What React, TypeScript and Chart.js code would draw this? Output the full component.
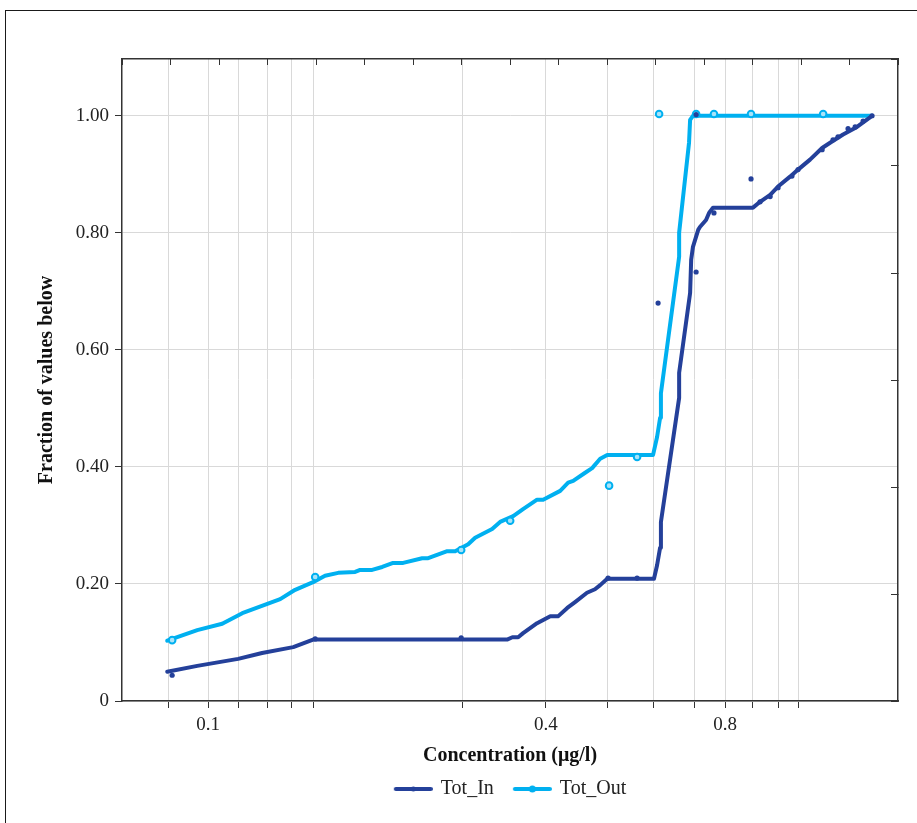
import React, { useEffect, useRef } from 'react';
import { Chart, registerables } from 'chart.js';
Chart.register(...registerables);

// Tot_In line
const inX = [0.0848, 0.0957, 0.1128, 0.1242, 0.1408, 0.1525, 0.3328, 0.340, 0.348, 0.355, 0.3755, 0.396, 0.409, 0.424, 0.4375, 0.459, 0.474, 0.484, 0.498, 0.601, 0.6085, 0.616, 0.618, 0.665, 0.665, 0.695, 0.698, 0.703, 0.718, 0.723, 0.741, 0.750, 0.762, 0.895, 0.921, 0.959, 0.990, 1.039, 1.073, 1.126, 1.182, 1.230, 1.286, 1.360, 1.445];
const inY = [0.050, 0.060, 0.072, 0.082, 0.092, 0.105, 0.105, 0.109, 0.109, 0.116, 0.133, 0.145, 0.145, 0.159, 0.169, 0.185, 0.191, 0.198, 0.209, 0.209, 0.232, 0.262, 0.306, 0.518, 0.561, 0.697, 0.754, 0.776, 0.805, 0.810, 0.822, 0.834, 0.843, 0.843, 0.853, 0.865, 0.879, 0.896, 0.908, 0.925, 0.945, 0.956, 0.968, 0.981, 1.0];

// Tot_Out line
const outX = [0.0848, 0.0957, 0.1058, 0.1147, 0.1336, 0.1419, 0.1525, 0.160, 0.1687, 0.1806, 0.1843, 0.1934, 0.2014, 0.2104, 0.2191, 0.2365, 0.2423, 0.2616, 0.2701, 0.2846, 0.2927, 0.3134, 0.3236, 0.3411, 0.3549, 0.3755, 0.3848, 0.4121, 0.4255, 0.4342, 0.4556, 0.4686, 0.484, 0.498, 0.5988, 0.6085, 0.616, 0.618, 0.665, 0.665, 0.692, 0.695, 0.703, 1.445];
const outY = [0.103, 0.121, 0.132, 0.150, 0.174, 0.190, 0.203, 0.214, 0.219, 0.2205, 0.224, 0.224, 0.229, 0.236, 0.236, 0.244, 0.244, 0.256, 0.256, 0.268, 0.279, 0.294, 0.306, 0.316, 0.328, 0.344, 0.344, 0.359, 0.373, 0.376, 0.390, 0.398, 0.414, 0.4205, 0.4205, 0.451, 0.484, 0.526, 0.759, 0.800, 0.954, 0.993, 1.0, 1.0];

// Markers
const inMarkX = [0.0865, 0.1538, 0.2767, 0.4997, 0.5615, 0.611, 0.712, 0.712, 0.765, 0.888, 0.921, 0.959, 0.990, 1.047, 1.073, 1.182, 1.235, 1.260, 1.312, 1.350, 1.394, 1.445];
const inMarkY = [0.044, 0.106, 0.108, 0.210, 0.210, 0.680, 1.002, 0.733, 0.834, 0.892, 0.853, 0.862, 0.877, 0.897, 0.908, 0.942, 0.959, 0.964, 0.978, 0.981, 0.991, 1.0];
const outMarkX = [0.0865, 0.1538, 0.2767, 0.337, 0.5017, 0.5615, 0.6135, 0.712, 0.765, 0.888, 1.187];
const outMarkY = [0.104, 0.212, 0.258, 0.308, 0.368, 0.417, 1.003, 1.003, 1.003, 1.003, 1.003];

const xTickValues = [0.0851, 0.1, 0.113, 0.127, 0.140, 0.153, 0.278, 0.389, 0.498, 0.601, 0.706, 0.8, 0.895, 0.99, 1.077];
const xTickLabels = ['', '0.1', '', '', '', '', '', '0.4', '', '', '', '0.8', '', '', ''];
const yTickValues = [0, 0.2, 0.4, 0.6, 0.8, 1.0];

const seriesNames = ['Tot_In', 'Tot_Out'];
const DARK = '#24409a';
const LIGHT = '#00b0f0';
const FONT = '"Liberation Serif", "DejaVu Serif", serif';

const zip = (xs: number[], ys: number[]) => xs.map((x, i) => ({ x, y: ys[i] }));

export default function App() {
  const ref = useRef<HTMLCanvasElement>(null);
  useEffect(() => {
    if (!ref.current) return;
    const legendImg = (color: string, r: number) => {
      const c = document.createElement('canvas');
      c.width = 41; c.height = 10;
      const g = c.getContext('2d')!;
      g.strokeStyle = color; g.lineWidth = 4; g.lineCap = 'round';
      g.beginPath(); g.moveTo(4, 5); g.lineTo(39, 5); g.stroke();
      g.fillStyle = color; g.beginPath(); g.arc(21.5, 5, r, 0, Math.PI * 2); g.fill();
      return c;
    };
    const imgs = [legendImg(DARK, 2.5), legendImg(LIGHT, 3.5)];

    const chart = new Chart(ref.current, {
      type: 'line',
      data: {
        datasets: [
          { label: seriesNames[0] + ' markers', data: zip(inMarkX, inMarkY), showLine: false, pointRadius: 2.6, pointBackgroundColor: DARK, pointBorderColor: DARK, pointBorderWidth: 0, order: 0 },
          { label: seriesNames[0], data: zip(inX, inY), borderColor: DARK, backgroundColor: DARK, borderWidth: 4, pointRadius: 0, tension: 0, borderJoinStyle: 'round', borderCapStyle: 'round', order: 1 },
          { label: seriesNames[1] + ' markers', data: zip(outMarkX, outMarkY), showLine: false, pointRadius: 3.3, pointBackgroundColor: '#a8e3f9', pointBorderColor: LIGHT, pointBorderWidth: 2, order: 2 },
          { label: seriesNames[1], data: zip(outX, outY), borderColor: LIGHT, backgroundColor: LIGHT, borderWidth: 4, pointRadius: 0, tension: 0, borderJoinStyle: 'round', borderCapStyle: 'round', order: 3 },
        ] as any,
      },
      options: {
        responsive: false,
        animation: false,
        layout: { padding: { left: 0, right: 0, top: 59, bottom: 14 } },
        plugins: {
          tooltip: { enabled: false },
          legend: {
            position: 'bottom',
            fullSize: false,
            labels: {
              usePointStyle: true,
              pointStyleWidth: 37,
              padding: 19,
              color: '#222',
              font: { family: FONT, size: 20 },
              filter: (item: any) => !String(item.text).includes('markers'),
              generateLabels: (ch: any) => {
                const base = (Chart.defaults.plugins.legend.labels as any).generateLabels(ch);
                return base.map((it: any) => {
                  const idx = seriesNames.indexOf(it.text);
                  if (idx >= 0) it.pointStyle = imgs[idx];
                  return it;
                });
              },
            },
          },
        },
        scales: {
          x: {
            type: 'logarithmic',
            position: 'bottom',
            min: 0.0707,
            max: 1.604,
            afterBuildTicks: (axis: any) => { axis.ticks = xTickValues.map((v) => ({ value: v })); },
            afterFit: (s: any) => { s.height = 59; },
            ticks: {
              autoSkip: false,
              maxRotation: 0,
              padding: 6,
              color: '#222',
              font: { family: FONT, size: 19 },
              callback: (_v: any, i: number) => xTickLabels[i],
            },
            grid: { color: '#d9d9d9', lineWidth: 1, tickColor: '#333', tickLength: 7 },
            border: { color: '#333', width: 1.5 },
            title: { display: true, text: 'Concentration (μg/l)', color: '#111', font: { family: FONT, size: 20, weight: 'bold' }, padding: { top: 0, bottom: -8 } },
          },
          x2: {
            type: 'linear',
            position: 'top',
            min: 0, max: 16,
            afterFit: (s: any) => { s.height = 0; },
            ticks: { display: false, stepSize: 1 },
            grid: { drawOnChartArea: false, tickLength: -6, tickColor: '#333' },
            border: { color: '#333', width: 1.5 },
          },
          y: {
            type: 'linear',
            position: 'left',
            min: 0,
            max: 1.097,
            afterBuildTicks: (axis: any) => { axis.ticks = yTickValues.map((v) => ({ value: v })); },
            afterFit: (s: any) => { s.width = 122; },
            ticks: {
              padding: 6,
              color: '#222',
              font: { family: FONT, size: 19 },
              callback: (v: any) => (Number(v) === 0 ? '0' : Number(v).toFixed(2)),
            },
            grid: { color: '#d9d9d9', lineWidth: 1, tickColor: '#333', tickLength: 7 },
            border: { color: '#333', width: 1.5 },
            title: { display: true, text: 'Fraction of values below', color: '#111', font: { family: FONT, size: 20, weight: 'bold' }, padding: { top: 35, bottom: 0 } },
          },
          y2: {
            type: 'linear',
            position: 'right',
            min: 0, max: 6,
            afterFit: (s: any) => { s.width = 19; },
            ticks: { display: false, stepSize: 1 },
            grid: { drawOnChartArea: false, tickLength: -7, tickColor: '#333' },
            border: { color: '#333', width: 1.5 },
          },
        },
      } as any,
    });
    return () => chart.destroy();
  }, []);

  return (
    <div style={{ position: 'fixed', left: 0, top: 0, width: 917, height: 823, background: '#fff', overflow: 'hidden' }}>
      <div style={{ position: 'absolute', left: 5, top: 10, width: 940, height: 840, border: '1.5px solid #1a1a1a' }} />
      <canvas ref={ref} width={917} height={823} style={{ position: 'absolute', left: 0, top: 0, width: 917, height: 823 }} />
    </div>
  );
}
